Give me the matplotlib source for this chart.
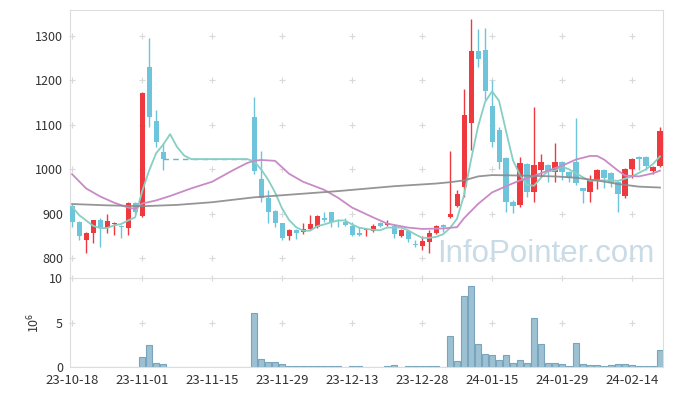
import numpy as np
import matplotlib.pyplot as plt

plt.rcParams['font.family'] = ['Noto Sans CJK KR', 'DejaVu Sans']

# 거래일 라벨 (10 거래일 간격)
tick_idx = [0, 10, 20, 30, 40, 50, 60, 70, 80]
tick_lbl = ['23-10-18', '23-11-01', '23-11-15', '23-11-29', '23-12-13',
            '23-12-28', '24-01-15', '24-01-29', '24-02-14']

# 캔들 데이터 (idx 14~25 거래정지)
idx = list(range(0, 14)) + list(range(26, 85))
opn = [918, 881, 840, 856, 885, 869, 877, 872, 869, 924, 896, 1229, 1108, 1038,
       1118, 978, 935, 906, 879, 851, 864, 858, 865, 871, 889, 903, 886, 882,
       873, 856, 863, 861, 879, 875, 873, 849, 861, 832, 828, 837, 856, 874,
       892, 918, 961, 1104, 1265, 1267, 1142, 1089, 1025, 926, 920, 1012, 948,
       999, 1010, 995, 1017, 995, 1017, 957, 948, 976, 999, 991, 971, 939,
       1000, 1027, 1027, 997, 1008]
hig = [922, 884, 858, 887, 890, 899, 882, 875, 926, 927, 1173, 1295, 1133, 1059,
       1162, 1040, 954, 908, 880, 866, 866, 879, 897, 897, 905, 905, 888, 890,
       882, 870, 867, 876, 881, 885, 875, 866, 863, 841, 849, 864, 875, 876,
       1040, 954, 1180, 1337, 1316, 1317, 1201, 1095, 1027, 930, 1028, 1015, 1140,
       1034, 1012, 1059, 1019, 997, 1115, 959, 987, 1001, 1001, 993, 973, 1003,
       1025, 1029, 1029, 1007, 1095]
low = [871, 841, 811, 834, 825, 856, 852, 845, 852, 900, 892, 1095, 1051, 999,
       990, 927, 879, 871, 841, 841, 843, 854, 863, 869, 882, 870, 870, 872,
       850, 850, 851, 859, 871, 873, 846, 847, 837, 826, 819, 813, 854, 858,
       890, 916, 938, 1044, 1231, 1156, 1051, 1000, 905, 901, 915, 937, 926,
       982, 971, 972, 976, 972, 965, 925, 927, 955, 957, 961, 905, 935,
       980, 999, 999, 989, 1005]
cls = [882, 849, 856, 885, 867, 884, 880, 870, 924, 903, 1171, 1118, 1062, 1023,
       997, 935, 905, 879, 846, 864, 856, 866, 877, 895, 887, 882, 884, 875,
       852, 852, 866, 873, 873, 879, 855, 864, 843, 830, 839, 856, 873, 871,
       900, 945, 1122, 1265, 1248, 1177, 1062, 1016, 927, 918, 1014, 948, 1009,
       1017, 993, 1017, 993, 980, 970, 952, 975, 999, 981, 970, 944, 1001,
       1023, 1023, 1008, 1005, 1086]
halt_close = 1023

# 이동평균선
ma5 = [916, 897, 885, 873, 868, 868, 874, 877, 885, 892, 950, 997, 1036, 1055,
       1079, 1050, 1031, 1023, 1023, 1023, 1023, 1023, 1023, 1023, 1023, 1023,
       1018, 1000, 977, 948, 912, 886, 870, 862, 862, 872, 876, 881, 885, 885,
       876, 869, 866, 864, 863, 869, 869, 869, 863, 854, 846, 846, 848, 854,
       868, 889, 942, 1021, 1096, 1151, 1175, 1154, 1086, 1020, 987, 965, 963,
       981, 996, 997, 1006, 1000, 991, 982, 974, 975, 975, 975, 974, 979, 984,
       992, 1000, 1012, 1029]
ma20_idx = [0, 2, 4, 6, 8, 9, 10, 12, 14, 17, 20, 23, 25, 26, 27, 29, 31, 33, 36,
            38, 40, 43, 45, 48, 50, 53, 55, 56, 58, 60, 62, 64, 66, 68, 70, 72,
            74, 75, 76, 78, 79, 81, 83, 84]
ma20 = [989, 957, 939, 925, 914, 911, 923, 930, 940, 957, 972, 998, 1014, 1019,
        1021, 1019, 990, 972, 954, 936, 914, 892, 878, 869, 866, 867, 870, 890,
        922, 948, 962, 975, 985, 997, 1008, 1022, 1030, 1030, 1022, 997, 986,
        984, 991, 997]
ma120_idx = [0, 5, 10, 15, 20, 26, 32, 38, 46, 52, 54, 56, 58, 60, 64, 69, 72,
             75, 78, 81, 84]
ma120 = [922, 919, 917, 920, 926, 937, 944, 951, 962, 968, 971, 975, 984, 987,
         986, 984, 981, 975, 967, 961, 959]

# 거래량 (백만주)
vol = [0, 0, 0, 0, 0, 0, 0, 0, 0, 0, 1.12, 2.47, 0.45, 0.34,
       0, 0, 0, 0, 0, 0, 0, 0, 0, 0, 0, 0,
       6.02, 0.86, 0.53, 0.53, 0.30, 0.15, 0.15, 0.07, 0.15, 0.07, 0.07, 0.07,
       0.07, 0, 0.07, 0.07, 0, 0, 0, 0.07, 0.19, 0, 0.07, 0.07, 0.07, 0.07,
       0.07, 0, 3.48, 0.67, 7.98, 9.1, 2.58, 1.43, 1.31, 0.75, 1.31, 0.41,
       0.79, 0.41, 5.47, 2.55, 0.41, 0.41, 0.30, 0.07, 2.66, 0.30, 0.19, 0.19,
       0.07, 0.19, 0.30, 0.30, 0.19, 0.07, 0.07, 0.07, 1.87]

RED = '#ee3a3e'
BLUE = '#6ec4db'
GRID = '#dddddd'
TXT = '#333333'

fig = plt.figure(figsize=(6.73, 3.96), dpi=100)
ax = fig.add_axes([70/673, 1-278/396, 593/673, 268/396])
axv = fig.add_axes([70/673, 1-367/396, 593/673, 89/396])

x = np.array(idx)
o = np.array(opn); c = np.array(cls)
col = [RED if cc >= oo else BLUE for oo, cc in zip(o, c)]
body_lo = np.minimum(o, c)
body_h = np.maximum(np.abs(c - o), 2.5)
ax.vlines(x, low, hig, colors=col, lw=1.0, zorder=2)
ax.bar(x, body_h, bottom=body_lo, width=0.72, color=col, lw=0, zorder=3)

# 거래정지 구간
ax.plot([13, 25], [halt_close, halt_close], ls=(0, (4, 3)), color='#5fb7c9',
        lw=1.0, zorder=2)

ax.plot(range(len(ma5)), ma5, color='#86cfc3', lw=1.3, zorder=4)
ax.plot(ma20_idx, ma20, color='#c98bc6', lw=1.3, zorder=4)
ax.plot(ma120_idx, ma120, color='#8a8a8a', lw=1.3, alpha=0.9, zorder=4)

ax.text(0.803, 0.035, 'InfoPointer.com', transform=ax.transAxes,
        ha='center', va='bottom', fontsize=22.5, color='#c9dbe6',
        family='Liberation Sans', zorder=1)

ax.set_xlim(-0.3, 84.43)
ax.set_ylim(755.7, 1358)
ax.set_yticks([800, 900, 1000, 1100, 1200, 1300])
ax.set_xticks([])
ax.tick_params(axis='y', length=0, pad=5, labelsize=9, labelcolor=TXT)
for s in ax.spines.values():
    s.set_color(GRID)
ax.spines['bottom'].set_visible(False)
gx, gy = np.meshgrid(tick_idx, [800, 900, 1000, 1100, 1200, 1300])
ax.scatter(gx.ravel(), gy.ravel(), marker='+', s=14, color='#d9d9d9',
           lw=0.8, zorder=0, clip_on=False)

axv.bar(range(len(vol)), vol, width=0.9, color='#9dc1d3', edgecolor='#78a5bd',
        lw=0.8, zorder=2)
axv.set_xlim(-0.3, 84.43)
axv.set_ylim(0, 10)
axv.set_yticks([0, 5, 10])
axv.set_xticks(tick_idx)
axv.set_xticklabels(tick_lbl)
axv.tick_params(axis='both', length=0, labelsize=9, labelcolor=TXT)
axv.tick_params(axis='y', pad=5)
axv.tick_params(axis='x', pad=5, labelsize=9.5)
axv.set_ylabel(r'$\mathregular{10^6}$', fontsize=9, color=TXT, labelpad=5)
for s in axv.spines.values():
    s.set_color(GRID)
vx, vy = np.meshgrid(tick_idx, [5, 10])
axv.scatter(vx.ravel(), vy.ravel(), marker='+', s=14, color='#d9d9d9',
            lw=0.8, zorder=0, clip_on=False)

fig.savefig('out.png', dpi=100)
